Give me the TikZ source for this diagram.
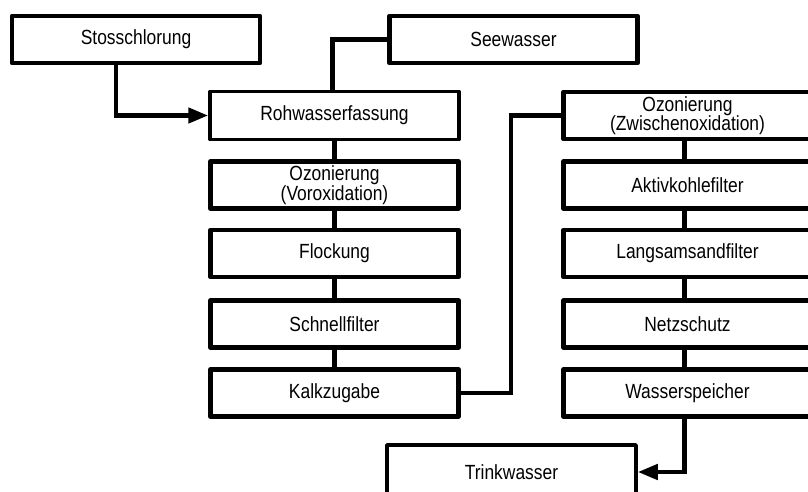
\documentclass[tikz,border=0pt]{standalone}
\usepackage{fontspec}
\setmainfont[FakeStretch=0.85]{Liberation Sans}
\usetikzlibrary{arrows.meta}

\tikzset{
  stepbox/.style={draw, line width=4.5pt, line join=round, minimum width=248pt,
    minimum height=47pt, inner sep=0pt, align=center,
    font=\fontsize{20.5}{19.5}\selectfont},
  thinbox/.style={stepbox, line width=3.5pt, minimum width=249pt, minimum height=48pt},
  link/.style={line width=4.5pt},
  feed/.style={link, -{Triangle[length=20pt,width=15pt]}}
}

\begin{document}
\begin{tikzpicture}[x=1pt, y=-1pt]
    \useasboundingbox (0,0) rectangle (808,492);
    % sources
    \node [stepbox] (stoss) at (136,39.5) {Stosschlorung};
    \node [stepbox] (see)   at (513.5,39.5) {Seewasser};
    % left column
    \node [thinbox] (rohw)  at (334.5,115.5) {Rohwasserfassung};
    \node [stepbox] (ozvor) at (334.5,185) {Ozonierung\\(Voroxidation)};
    \node [stepbox] (flock) at (334.5,253.5) {Flockung};
    \node [stepbox] (schnell) at (334.5,324) {Schnellfilter};
    \node [stepbox] (kalk)  at (334.5,393) {Kalkzugabe};
    % right column
    \node [stepbox] (ozzw)  at (687.5,115.5) {Ozonierung\\(Zwischenoxidation)};
    \node [stepbox] (akt)   at (687.5,185) {Aktivkohlefilter};
    \node [stepbox] (sand)  at (687.5,253.5) {Langsamsandfilter};
    \node [stepbox] (netz)  at (687.5,324) {Netzschutz};
    \node [stepbox] (wsp)   at (687.5,393) {Wasserspeicher};
    % product
    \node [thinbox, minimum height=54pt] (trink) at (511.5,472) {Trinkwasser};

    \draw [feed] ([xshift=-20pt]stoss.south) |- (rohw.west);
    \draw [link] (see.west) -| ([xshift=-2pt]rohw.north);
    \draw [link] (rohw.south) -- (ozvor.north)
                 (ozvor.south) -- (flock.north)
                 (flock.south) -- (schnell.north)
                 (schnell.south) -- (kalk.north);
    \draw [link] (kalk.east) -- ++(50,0) |- (ozzw.west);
    \draw [link] ([xshift=-3pt]ozzw.south) -- ([xshift=-3pt]akt.north)
                 ([xshift=-3pt]akt.south) -- ([xshift=-3pt]sand.north)
                 ([xshift=-3pt]sand.south) -- ([xshift=-3pt]netz.north)
                 ([xshift=-3pt]netz.south) -- ([xshift=-3pt]wsp.north);
    \draw [feed] ([xshift=-3pt]wsp.south) |- (trink.east);
  \end{tikzpicture}
\end{document}
